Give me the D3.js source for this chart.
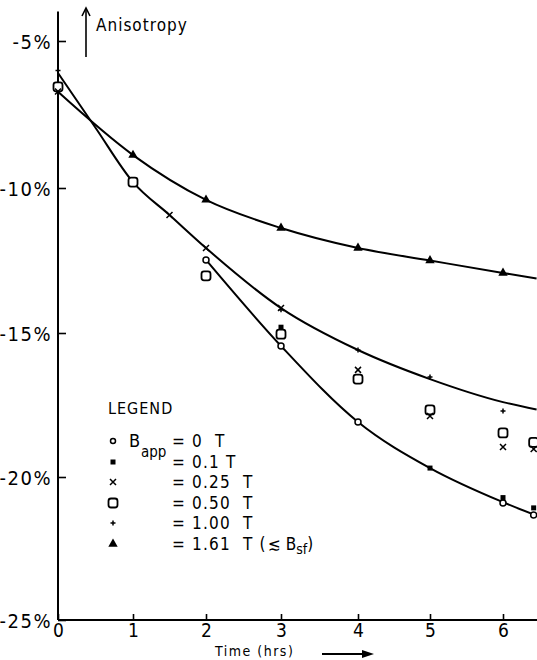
<!DOCTYPE html>
<html>
<head>
<meta charset="utf-8">
<script src="https://cdn.jsdelivr.net/npm/d3@7"></script>
<style>
  body { margin: 0; background: #fff; }
  text { font-family: "Liberation Sans Narrow", "DejaVu Sans Condensed", sans-serif; fill: #000; white-space: pre; }
</style>
</head>
<body>
<svg id="chart" width="537" height="660"></svg>
<script>
// axis ticks
const timeTicks = [0, 1, 2, 3, 4, 5, 6];
const anisoTicks = [-25, -20, -15, -10, -5];
const anisoLabels = ["-25%", "-20%", "-15%", "-10%", "-5%"];

// measured points, one pair of arrays per applied field
const t_0T = [2, 3, 4, 6, 6.42];
const v_0T = [-12.48, -15.45, -18.09, -20.91, -21.33];
const t_01T = [3, 5, 6, 6.42];
const v_01T = [-14.8, -19.69, -20.72, -21.08];
const t_025T = [0, 1.5, 2, 3, 4, 5, 6, 6.42];
const v_025T = [-6.72, -10.93, -12.07, -14.14, -16.28, -17.88, -18.96, -19.03];
const t_050T = [0, 1, 2, 3, 4, 5, 6, 6.42];
const v_050T = [-6.56, -9.8, -13.03, -15.04, -16.6, -17.67, -18.47, -18.8];
const t_100T = [0, 3, 4, 5, 6];
const v_100T = [-6.0, -14.2, -15.59, -16.53, -17.71];
const t_161T = [1, 2, 3, 4, 5, 6];
const v_161T = [-8.88, -10.41, -11.38, -12.07, -12.5, -12.93];

// hand drawn fitted curves
const curveTopT = [0, 1, 2, 3, 4, 5, 6, 6.46];
const curveTopV = [-6.73, -8.88, -10.41, -11.38, -12.07, -12.5, -12.93, -13.12];
const curveMidT = [0, 0.5, 1, 1.5, 2, 3, 4, 5, 6, 6.46];
const curveMidV = [-6.09, -7.95, -9.8, -10.93, -12.07, -14.14, -15.59, -16.6, -17.4, -17.66];
const curveLowT = [2, 3, 4, 5, 6, 6.46];
const curveLowV = [-12.48, -15.45, -18.09, -19.69, -20.88, -21.35];

const legendRows = ["= 0  T", "= 0.1 T", "= 0.25  T", "= 0.50  T", "= 1.00  T", "= 1.61  T ("];

const svg = d3.select("#chart");

let x = d3.scaleLinear()
  .domain(timeTicks)
  .range([58, 133, 206, 281, 358, 430, 503]);
let y = d3.scaleLinear()
  .domain(anisoTicks)
  .range([620, 477, 333, 188, 41]);

// Y axis
let yAxis = svg.append("g")
  .attr("transform", "translate(58,0)")
  .call(d3.axisLeft(y).tickValues(anisoTicks)
    .tickFormat((d, i) => anisoLabels[i])
    .tickSizeInner(-8).tickSizeOuter(0).tickPadding(6));
yAxis.select(".domain").remove();
yAxis.selectAll("line").attr("stroke", "#000").attr("stroke-width", 1.6);
yAxis.selectAll("text").style("font-size", "20px").attr("letter-spacing", 1.5).attr("dy", "0.35em");

svg.append("line")
  .attr("x1", 58).attr("x2", 58)
  .attr("y1", y(-25)).attr("y2", y(-4))
  .attr("stroke", "#000").attr("stroke-width", 2);

// X axis
let xAxis = svg.append("g")
  .attr("transform", `translate(0,${y(-25)})`)
  .call(d3.axisBottom(x).tickValues(timeTicks)
    .tickFormat(d3.format("d"))
    .tickSizeInner(-6).tickSizeOuter(0).tickPadding(3));
xAxis.select(".domain").remove();
xAxis.selectAll("line").attr("stroke", "#000").attr("stroke-width", 1.6);
xAxis.selectAll("text").style("font-size", "19px");

svg.append("line")
  .attr("x1", x(0)).attr("x2", 537)
  .attr("y1", y(-25)).attr("y2", y(-25))
  .attr("stroke", "#000").attr("stroke-width", 2);

// curves
let line = d3.line()
  .x(d => x(d[0]))
  .y(d => y(d[1]))
  .curve(d3.curveMonotoneX);

[[curveTopT, curveTopV], [curveMidT, curveMidV], [curveLowT, curveLowV]].forEach(function (c) {
  svg.append("path")
    .datum(c[0].map((t, i) => [t, c[1][i]]))
    .attr("d", line)
    .attr("fill", "none")
    .attr("stroke", "#000")
    .attr("stroke-width", 2);
});

// marker drawing
function drawMarker(g, kind) {
  if (kind === "circle") {
    g.append("circle").attr("r", 3).attr("fill", "#fff").attr("stroke", "#000").attr("stroke-width", 1.5);
  } else if (kind === "fsquare") {
    g.append("rect").attr("x", -2.5).attr("y", -2.5).attr("width", 5).attr("height", 5).attr("fill", "#000");
  } else if (kind === "cross") {
    g.append("path").attr("d", "M-3,-3L3,3M-3,3L3,-3").attr("stroke", "#000").attr("stroke-width", 1.5);
  } else if (kind === "square") {
    g.append("rect").attr("x", -4.5).attr("y", -4.5).attr("width", 9).attr("height", 9).attr("rx", 2.5)
      .attr("fill", "#fff").attr("stroke", "#000").attr("stroke-width", 1.8);
  } else if (kind === "plus") {
    g.append("path").attr("d", "M-2.5,0L2.5,0M0,-2.5L0,2.5").attr("stroke", "#000").attr("stroke-width", 1.5);
  } else if (kind === "triangle") {
    g.append("path").attr("d", d3.symbol(d3.symbolTriangle, 38)()).attr("fill", "#000");
  }
}

let series = [
  { kind: "square", t: t_050T, v: v_050T },
  { kind: "circle", t: t_0T, v: v_0T },
  { kind: "fsquare", t: t_01T, v: v_01T },
  { kind: "cross", t: t_025T, v: v_025T },
  { kind: "plus", t: t_100T, v: v_100T },
  { kind: "triangle", t: t_161T, v: v_161T }
];

series.forEach(function (s) {
  s.t.forEach(function (t, i) {
    let g = svg.append("g").attr("transform", `translate(${x(t)},${y(s.v[i])})`);
    drawMarker(g, s.kind);
  });
});

// legend
svg.append("text").attr("x", 108).attr("y", 414).style("font-size", "16px").attr("letter-spacing", 1).text("LEGEND");

let legendKinds = ["circle", "fsquare", "cross", "square", "plus", "triangle"];
let rowY = [441, 462, 482, 503, 523, 544];

legendKinds.forEach(function (k, i) {
  let g = svg.append("g").attr("transform", `translate(113,${rowY[i]})`);
  if (k === "circle") {
    g.append("circle").attr("r", 2.5).attr("fill", "#fff").attr("stroke", "#000").attr("stroke-width", 1.5);
  } else {
    drawMarker(g, k);
  }
  svg.append("text")
    .attr("x", 172).attr("y", rowY[i] + 6)
    .style("font-size", "17px").attr("letter-spacing", 1.2)
    .text(legendRows[i]);
});

svg.append("text").attr("x", 129).attr("y", 447).style("font-size", "18px").text("B");
svg.append("text").attr("x", 141).attr("y", 457).style("font-size", "15px").text("app");

let lastRow = svg.append("text").attr("x", 268).attr("y", rowY[5] + 6).style("font-size", "17px");
lastRow.append("tspan").text("≲ B");
lastRow.append("tspan").attr("dy", 4).style("font-size", "14px").text("sf");
lastRow.append("tspan").attr("dy", -4).text(")");

// axis titles with arrows
svg.append("line").attr("x1", 86).attr("x2", 86).attr("y1", 57).attr("y2", 9)
  .attr("stroke", "#000").attr("stroke-width", 1.6);
svg.append("path").attr("d", "M82,16L86,8L90,16").attr("fill", "none").attr("stroke", "#000").attr("stroke-width", 1.6);
svg.append("text").attr("x", 96).attr("y", 31).style("font-size", "17px").attr("letter-spacing", 1).text("Anisotropy");

svg.append("text").attr("x", 215).attr("y", 656).style("font-size", "14px").attr("letter-spacing", 1.5).text("Time (hrs)");
svg.append("line").attr("x1", 322).attr("x2", 366).attr("y1", 654).attr("y2", 654)
  .attr("stroke", "#000").attr("stroke-width", 2);
svg.append("path").attr("d", "M362,650L374,654L362,658Z").attr("fill", "#000");
</script>
</body>
</html>
